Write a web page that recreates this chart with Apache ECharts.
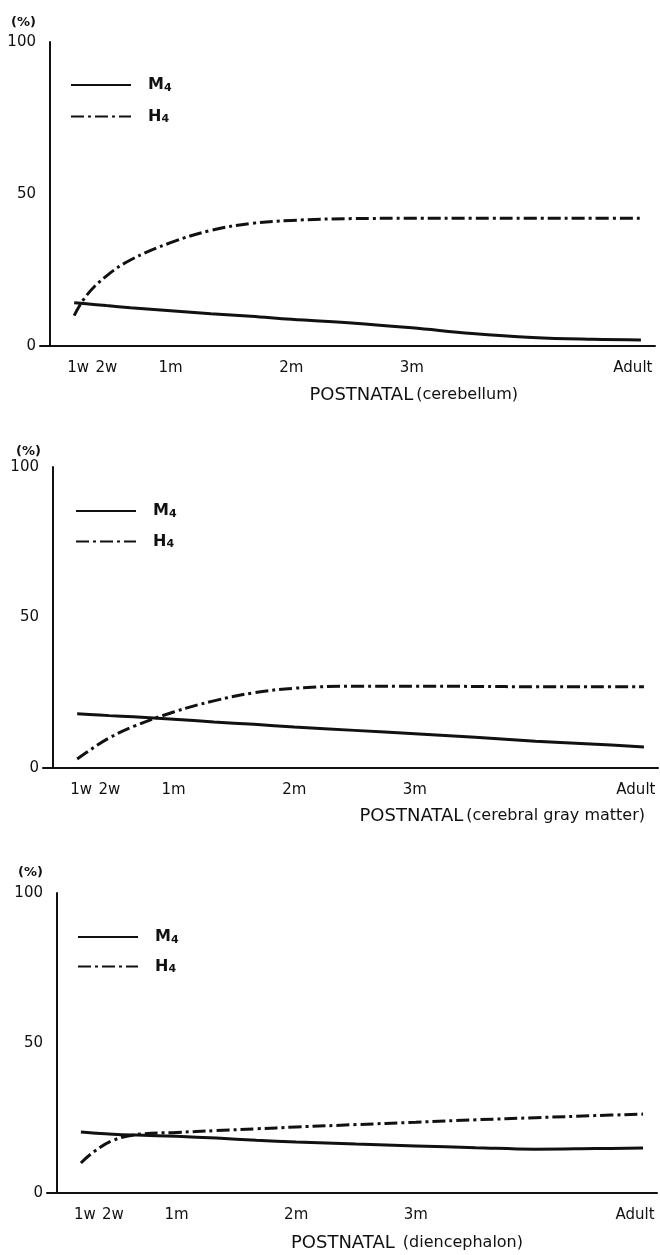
<!DOCTYPE html>
<html><head><meta charset="utf-8">
<script src="https://cdn.jsdelivr.net/npm/echarts@6/dist/echarts.min.js"></script>
<style>html,body{margin:0;padding:0;background:#fff}#c{width:660px;height:1255px}</style>
</head><body><div id="c"></div>
<script>
// x positions are postnatal age in days
const tickDays = [7, 14, 30, 60, 90, 145];
const tickLabels = ['1w', '2w', '1m', '2m', '3m', 'Adult'];
const days = [6, 9, 14, 20, 30, 40, 50, 60, 75, 90, 105, 120, 135, 147];

const cerebellumM4 = [14.2, 13.9, 13.3, 12.6, 11.6, 10.6, 9.8, 8.8, 7.6, 6.0, 4.1, 2.8, 2.2, 2.0];
const cerebellumH4 = [10, 16.5, 23, 28.3, 34, 38, 40.3, 41.3, 41.9, 42, 42, 42, 42, 42];
const grayM4 = [18, 17.8, 17.4, 17, 16.2, 15.3, 14.5, 13.6, 12.5, 11.4, 10.2, 8.9, 7.9, 7.0];
const grayH4 = [3, 5.8, 10, 13.8, 18.6, 22.3, 25, 26.5, 27.2, 27.2, 27.1, 27, 27, 27];
const dienM4 = [20.3, 20, 19.6, 19.3, 18.9, 18.3, 17.6, 17, 16.3, 15.7, 15.1, 14.6, 14.8, 15];
const dienH4 = [10, 13.5, 17.5, 19.5, 20.2, 20.8, 21.4, 22, 22.8, 23.6, 24.4, 25.1, 25.8, 26.3];

const panelNames = ['(cerebellum)', '(cerebral gray matter)', ' (diencephalon)'];
const axisTitle = 'POSTNATAL';
const unitLabel = '(%)';
const panelSeries = [[cerebellumM4, cerebellumH4], [grayM4, grayH4], [dienM4, dienH4]];
const seriesNames = ['M4', 'H4'];

const FONT = 'DejaVu Sans';
const INK = '#111';
const layout = [
  {top: 42, height: 304, left: 40, right: 5, legTop: 77, legLeft: 70, legGap: 15, nameRight: 142, nameTop: 386, pctLeft: 11, pctTop: 16},
  {top: 467, height: 301, left: 43, right: 2, legTop: 503, legLeft: 75, legGap: 14, nameRight: 15, nameTop: 807, pctLeft: 16, pctTop: 445},
  {top: 893, height: 300, left: 47, right: 3, legTop: 929, legLeft: 77, legGap: 13, nameRight: 137, nameTop: 1234, pctLeft: 18, pctTop: 866}
];

const pair = (xs, ys) => xs.map((x, i) => [x, ys[i]]);
const subRich = {
  n: {fontFamily: FONT, fontSize: 16, fontWeight: 'bold', color: INK},
  s: {fontFamily: FONT, fontSize: 11, fontWeight: 'bold', color: INK, verticalAlign: 'bottom', padding: [6, 0, 0, 0]}
};

const option = {
  backgroundColor: '#fff',
  animation: false,
  title: layout.map((l, i) => ({
    text: '{a|' + axisTitle + '}{b|' + panelNames[i] + '}',
    right: l.nameRight, top: l.nameTop, padding: 0,
    textStyle: {
      fontWeight: 'normal',
      rich: {
        a: {fontFamily: FONT, fontSize: 18, fontWeight: 'normal', color: INK, padding: [0, 3, 0, 0]},
        b: {fontFamily: FONT, fontSize: 16, fontWeight: 'normal', color: INK}
      }
    }
  })).concat(layout.map(l => ({
    text: unitLabel, left: l.pctLeft, top: l.pctTop, padding: 0,
    textStyle: {fontFamily: FONT, fontSize: 13, fontWeight: 'bold', color: INK}
  }))),
  grid: layout.map(l => ({left: l.left, right: l.right, top: l.top, height: l.height, containLabel: false})),
  legend: layout.map(l => ({
    data: seriesNames, orient: 'vertical', left: l.legLeft, top: l.legTop, padding: 0,
    itemWidth: 60, itemHeight: 14, itemGap: l.legGap,
    itemStyle: {opacity: 0},
    formatter: n => '{n|' + n.charAt(0) + '}{s|' + n.slice(1) + '}',
    textStyle: {padding: [0, 0, 0, 12], rich: subRich},
    selectedMode: false
  })),
  xAxis: layout.map((l, i) => ({
    type: 'value', gridIndex: i, min: -2.5, max: 150.5,
    axisLine: {show: true, onZero: false, lineStyle: {color: INK, width: 2}},
    axisTick: {show: false},
    splitLine: {show: false},
    axisLabel: {
      customValues: tickDays, margin: 15,
      formatter: v => tickLabels[tickDays.indexOf(v)] || '',
      fontFamily: FONT, fontSize: 15, color: INK
    }
  })),
  yAxis: layout.map((l, i) => ({
    type: 'value', gridIndex: i, min: 0, max: 100, interval: 50,
    axisLine: {show: true, lineStyle: {color: INK, width: 2}},
    axisTick: {show: false},
    splitLine: {show: false},
    axisLabel: {margin: 4, fontFamily: FONT, fontSize: 15, color: INK}
  })),
  series: []
};

panelSeries.forEach((ps, i) => {
  option.series.push({
    name: 'M4', type: 'line', xAxisIndex: i, yAxisIndex: i,
    data: pair(days, ps[0]), smooth: 0.4, symbol: 'none',
    lineStyle: {color: INK, width: 3, type: 'solid'},
    itemStyle: {color: INK}
  });
  option.series.push({
    name: 'H4', type: 'line', xAxisIndex: i, yAxisIndex: i,
    data: pair(days, ps[1]), smooth: 0.4, symbol: 'none',
    lineStyle: {color: INK, width: 3, type: [13, 4, 3, 4]},
    itemStyle: {color: INK}
  });
});

const chart = echarts.init(document.getElementById('c'), null, {renderer: 'canvas'});
chart.setOption(option);
</script></body></html>
